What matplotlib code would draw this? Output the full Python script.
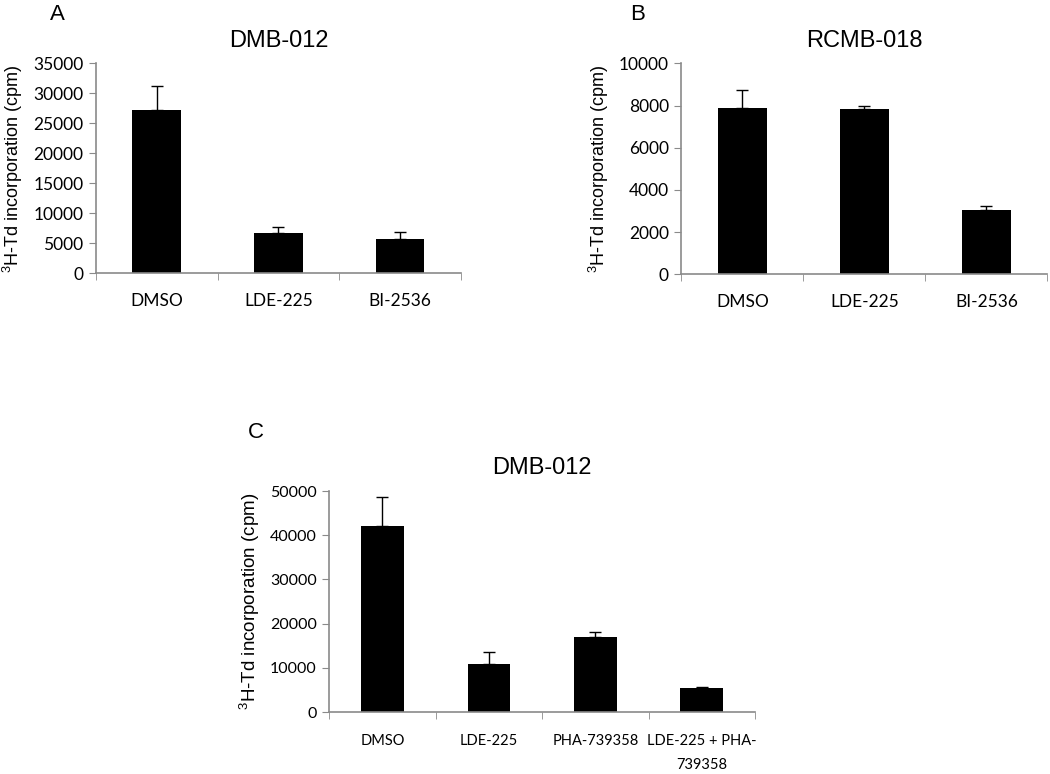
import numpy as np
import matplotlib.pyplot as plt

# panel A - DMB-012
cats_a = ['DMSO', 'LDE-225', 'BI-2536']
vals_a = [27250, 6680, 5770]
err_a = [4000, 1100, 1060]

# panel B - RCMB-018
cats_b = ['DMSO', 'LDE-225', 'BI-2536']
vals_b = [7900, 7820, 3060]
err_b = [840, 160, 190]

# panel C - DMB-012
cats_c = ['DMSO', 'LDE-225', 'PHA-739358', 'LDE-225 + PHA-\n739358']
vals_c = [42150, 10930, 16900, 5360]
err_c = [6400, 2700, 1200, 360]

ylabel = '$^3$H-Td incorporation (cpm)'
spine_col = '#8a8a8a'
title_font = ['Liberation Sans', 'DejaVu Sans']
tick_font = ['Lato', 'DejaVu Sans']

plt.rcParams['mathtext.fontset'] = 'custom'
plt.rcParams['mathtext.rm'] = 'Liberation Sans'

fig = plt.figure(figsize=(10.5, 7.74), dpi=100)


def bar_panel(rect, cats, vals, err, ymax, ystep, title, letter, letter_xy,
              xtick_size=12.5, ytick_size=12.5, label_size=13, xpad=14):
    ax = fig.add_axes(rect)
    x = np.arange(len(cats))
    ax.bar(x, vals, width=0.4, color='black', zorder=2)
    ax.errorbar(x, vals, yerr=[np.zeros(len(err)), err], fmt='none',
                ecolor='black', elinewidth=1, capsize=4, capthick=1, zorder=3)
    ax.set_xlim(-0.5, len(cats) - 0.5)
    ax.set_ylim(0, ymax)
    ax.set_yticks(np.arange(0, ymax + 1, ystep))
    ax.set_xticks(x)
    ax.set_xticklabels(cats, family=tick_font, fontsize=xtick_size, linespacing=1.9,
                       va='top')
    ax.set_xticks(np.arange(-0.5, len(cats), 1.0), minor=True)
    ax.tick_params(axis='x', which='major', length=0, pad=xpad)
    ax.tick_params(axis='x', which='minor', length=5, color=spine_col, direction='out')
    ax.tick_params(axis='y', length=5, color=spine_col, direction='out', pad=4)
    for lab in ax.get_yticklabels():
        lab.set_family(tick_font)
        lab.set_fontsize(ytick_size)
    for s in ['top', 'right']:
        ax.spines[s].set_visible(False)
    for s in ['left', 'bottom']:
        ax.spines[s].set_color(spine_col)
        ax.spines[s].set_linewidth(1.2)
    ax.set_ylabel(ylabel, family=title_font, fontsize=label_size, labelpad=6)
    ax.set_title(title, family=title_font, fontsize=17, pad=12)
    fig.text(letter_xy[0], letter_xy[1], letter, family=title_font, fontsize=16,
             ha='center', va='center')
    return ax


bar_panel([0.0914, 0.6469, 0.3476, 0.2713], cats_a, vals_a, err_a, 35000, 5000,
          'DMB-012', 'A', (57 / 1050, 1 - 14 / 774))
bar_panel([0.6489, 0.6456, 0.3486, 0.2726], cats_b, vals_b, err_b, 10000, 2000,
          'RCMB-018', 'B', (638 / 1050, 1 - 14 / 774))
bar_panel([0.3136, 0.0801, 0.4054, 0.2855], cats_c, vals_c, err_c, 50000, 10000,
          'DMB-012', 'C', (256 / 1050, 1 - 433 / 774),
          xtick_size=10.5, ytick_size=11.5, label_size=13.5, xpad=16)

fig.savefig('out.png', dpi=100, facecolor='white')
